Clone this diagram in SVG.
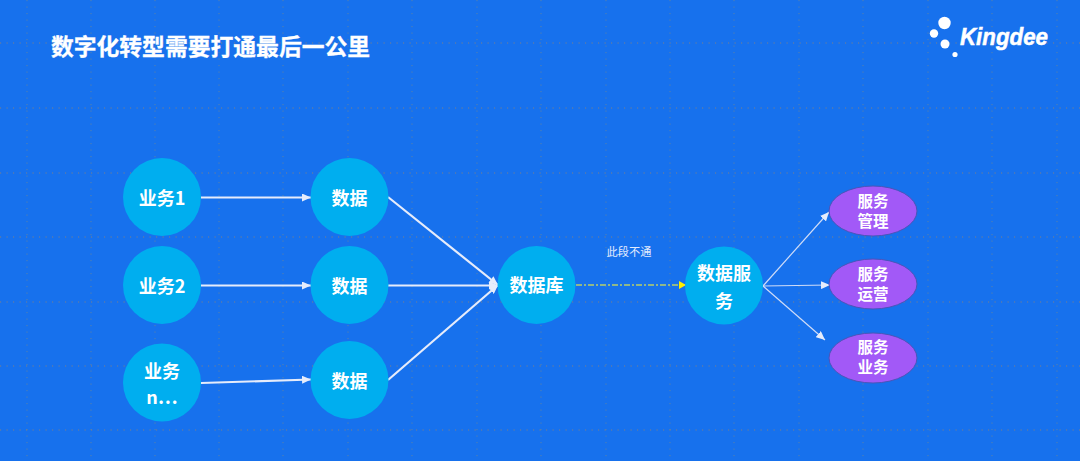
<svg xmlns="http://www.w3.org/2000/svg" width="1080" height="461" viewBox="0 0 1080 461">
<style>
text{font-family:"Liberation Sans","Noto Sans CJK SC",sans-serif;text-anchor:middle;fill:#fff}
.cjk{font-family:"Noto Sans CJK SC",sans-serif;font-weight:700}
.n{font-size:18px}
.p{font-size:15.5px}
.c{fill:#00aeef}
.e{fill:#a259f7;stroke:#4a55b8;stroke-width:1}
.gh{stroke:#b08a5a;stroke-width:1;stroke-dasharray:1.2 5.3;opacity:.65}
.gv{stroke:#7d8c8a;stroke-width:1;stroke-dasharray:1.2 5.3;opacity:.65}
.a{fill:none;stroke:#e6ecfb;stroke-width:2.200}
.b{fill:none;stroke:#cfdcf8;stroke-width:1.200}
</style>
<defs>
<marker id="m" markerUnits="userSpaceOnUse" markerWidth="10" markerHeight="8" refX="9" refY="4" orient="auto"><path d="M0 0L9 4L0 8z" fill="#e6ecfb"/></marker>
<marker id="y" markerUnits="userSpaceOnUse" markerWidth="8" markerHeight="8" refX="7" refY="4" orient="auto"><path d="M0 0L7 4L0 8z" fill="#ffef00"/></marker>
</defs>
<rect width="1080" height="461" fill="#1771ed"/>
<g id="grid">
<path class="gh" d="M0 43H1080M0 108H1080M0 173H1080M0 237H1080M0 302H1080M0 366H1080M0 430H1080"/>
<path class="gv" d="M27 0V461M91 0V461M155 0V461M219 0V461M283 0V461M348 0V461M412 0V461M477 0V461M541 0V461M606 0V461M670 0V461M734 0V461M799 0V461M863 0V461M928 0V461M992 0V461M1057 0V461"/>
</g>
<text id="title" class="cjk" x="210.500" y="55" font-size="22.800" stroke="#fff" stroke-width=".3">数字化转型需要打通最后一公里</text>
<g id="logo">
<circle cx="944.500" cy="23" r="6.200" fill="#fff"/>
<circle cx="934" cy="33.500" r="4.200" fill="#fff"/>
<circle cx="945" cy="44" r="4.500" fill="#fff"/>
<circle cx="955" cy="54.500" r="2.600" fill="#fff"/>
<text x="1004" y="44.500" font-size="23.500" font-weight="700" font-style="italic" stroke="#fff" stroke-width=".5" textLength="88" lengthAdjust="spacingAndGlyphs">Kingdee</text>
</g>
<g id="connectors">
<path class="a" marker-end="url(#m)" d="M201 197.500H311"/>
<path class="a" marker-end="url(#m)" d="M201 285.500H311"/>
<path class="a" marker-end="url(#m)" d="M201 383L311 379.500"/>
<path class="a" marker-end="url(#m)" d="M388 197L498 285"/>
<path class="a" marker-end="url(#m)" d="M388 285.500H498"/>
<path class="a" marker-end="url(#m)" d="M388 380L498 285"/>
<path fill="none" stroke="#8fb88a" stroke-width="2" stroke-dasharray="6 2 2 2" marker-end="url(#y)" d="M576 285H686"/>
<path class="b" marker-end="url(#m)" d="M763 286L829 212"/>
<path class="b" marker-end="url(#m)" d="M763 286L830 285"/>
<path class="b" marker-end="url(#m)" d="M763 286L825 340"/>
</g>
<text id="gap-label" class="cjk" style="font-weight:400;fill:#e3ebfd" x="629" y="256" font-size="11.200">此段不通</text>
<g id="biz1"><circle class="c" cx="162" cy="197" r="39"/><text class="cjk n" x="162" y="205">业务1</text></g>
<g id="biz2"><circle class="c" cx="162" cy="285" r="39"/><text class="cjk n" x="162" y="293">业务2</text></g>
<g id="bizn"><circle class="c" cx="162" cy="382.500" r="39"/><text class="cjk n" x="162" y="378">业务</text><text class="cjk n" x="162" y="404">n…</text></g>
<g id="data1"><circle class="c" cx="349.500" cy="197" r="39"/><text class="cjk n" x="349.500" y="205">数据</text></g>
<g id="data2"><circle class="c" cx="349.500" cy="285" r="39"/><text class="cjk n" x="349.500" y="293">数据</text></g>
<g id="data3"><circle class="c" cx="349.500" cy="380" r="39"/><text class="cjk n" x="349.500" y="388">数据</text></g>
<g id="db"><circle class="c" cx="536.500" cy="285" r="39"/><text class="cjk n" x="536.500" y="292">数据库</text></g>
<g id="svc"><circle class="c" cx="724" cy="285.500" r="39"/><text class="cjk n" x="724" y="280">数据服</text><text class="cjk n" x="724" y="308">务</text></g>
<g id="mgmt"><ellipse class="e" cx="873" cy="211" rx="44" ry="25"/><text class="cjk p" x="873" y="207">服务</text><text class="cjk p" x="873" y="227">管理</text></g>
<g id="ops"><ellipse class="e" cx="873" cy="284" rx="44" ry="25"/><text class="cjk p" x="873" y="280">服务</text><text class="cjk p" x="873" y="300">运营</text></g>
<g id="biz"><ellipse class="e" cx="873" cy="358" rx="44" ry="25"/><text class="cjk p" x="873" y="353">服务</text><text class="cjk p" x="873" y="373">业务</text></g>
</svg>
